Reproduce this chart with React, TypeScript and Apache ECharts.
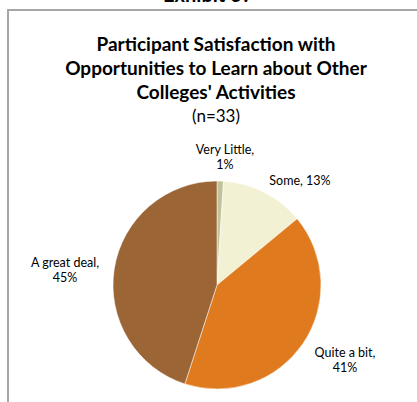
import React, { useEffect, useRef } from "react";
import * as echarts from "echarts";

const categories = ["Very Little", "Some", "Quite a bit", "A great deal"];
const percents = [1, 13, 41, 45];
const colors = ["#BFC39A", "#F3F1D3", "#E07A1F", "#9B6535"];
const titleLines = ["Participant Satisfaction with", "Opportunities to Learn about Other", "Colleges' Activities"];
const subtitle = "(n=33)";
const exhibit = "Exhibit 6?";
// label offsets from pie centre (layout only), same order as categories
const labelOffsets = [
  [8, -128],
  [83, -105],
  [128, 75],
  [-152, -15],
];

const CX = 217;
const CY = 285;
const R = 104;

export default function App() {
  const ref = useRef<HTMLDivElement>(null);
  useEffect(() => {
    document.body.style.margin = "0";
    const chart = echarts.init(ref.current!, null, { renderer: "svg" });
    const font = "Lato, 'Open Sans', sans-serif";
    chart.setOption({
      animation: false,
      backgroundColor: "#ffffff",
      graphic: [
        {
          type: "rect",
          shape: { x: 8, y: 10, width: 430, height: 420 },
          style: { fill: "none", stroke: "#a6a6a6", lineWidth: 2 },
          silent: true,
        },
        {
          type: "text",
          x: 207,
          y: 4,
          style: {
            text: exhibit,
            font: "bold 20px " + font,
            fill: "#000",
            align: "center",
            verticalAlign: "bottom",
          },
        },
        ...titleLines.map((t, i) => ({
          type: "text",
          x: 216,
          y: 43 + i * 24,
          style: {
            text: t,
            font: "bold 19px " + font,
            fill: "#000",
            align: "center",
            verticalAlign: "middle",
          },
        })),
        {
          type: "text",
          x: 216,
          y: 115,
          style: {
            text: subtitle,
            font: "17px " + font,
            fill: "#000",
            align: "center",
            verticalAlign: "middle",
          },
        },
      ],
      series: [
        {
          type: "pie",
          center: [CX, CY],
          radius: [0, R],
          startAngle: 90,
          clockwise: true,
          avoidLabelOverlap: false,
          itemStyle: { borderColor: "#ffffff", borderWidth: 0.5 },
          label: {
            show: true,
            position: "outside",
            formatter: (p: any) =>
              p.dataIndex === 1 ? `${p.name}, ${p.value}%` : `${p.name},\n${p.value}%`,
            fontFamily: font,
            fontSize: 12.5,
            color: "#000",
            lineHeight: 15,
            align: "center",
          },
          labelLine: { show: false },
          labelLayout: (params: any) => {
            const o = labelOffsets[params.dataIndex];
            return {
              x: CX + o[0],
              y: CY + o[1],
              align: "center",
              verticalAlign: "middle",
            };
          },
          data: categories.map((c, i) => ({
            name: c,
            value: percents[i],
            itemStyle: { color: colors[i] },
          })),
        },
      ],
    });
    return () => chart.dispose();
  }, []);
  return <div ref={ref} style={{ width: 417, height: 402, position: "absolute", left: 0, top: 0 }} />;
}
